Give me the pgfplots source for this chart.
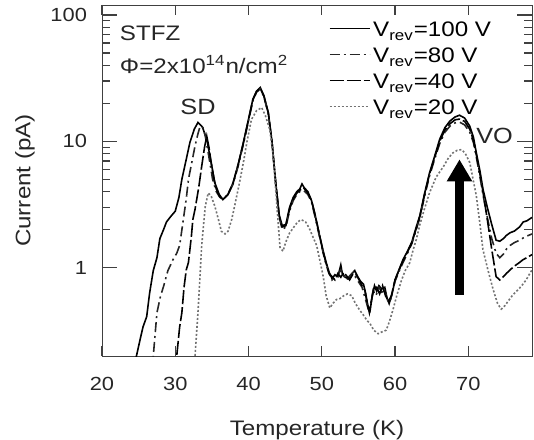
\documentclass[border=0pt]{standalone}
\usepackage{fontspec}
\setmainfont{Liberation Sans}[FakeStretch=1.15]
\usepackage{pgfplots}
\pgfplotsset{compat=1.18}
\usetikzlibrary{arrows.meta}

\begin{document}
\begin{tikzpicture}
\useasboundingbox (-51pt,-41.5pt) rectangle (216pt,178pt);
\begin{axis}[
  scale only axis,
  width=215pt, height=175.5pt,
  ymode=log,
  xmin=20, xmax=78.7,
  ymin=0.2, ymax=120,
  xtick={20,30,40,50,60,70},
  ytick={1,10,100},
  yticklabels={1,10,100},
  major tick length=5pt,
  minor tick length=4pt,
  ytick style={/pgfplots/major tick length=7.5pt},
  axis line style={black!75},
  every tick/.style={black!75, line width=0.6pt},
  /pgf/number format/assume math mode=true,
  tick label style={font=\fontsize{9.5}{11}\selectfont, text=black!85},
  xticklabel style={yshift=-7pt},
  yticklabel style={xshift=-4pt},
  xlabel={Temperature (K)},
  ylabel={Current (pA)},
  label style={font=\fontsize{10.5}{12}\selectfont, text=black!85},
  xlabel style={yshift=-8pt},
  ylabel style={yshift=1pt},
  legend style={draw=none, fill=none, inner sep=0pt,
    at={(rel axis cs:0.527,0.956)}, anchor=north west,
    font=\fontsize{10.5}{12}\selectfont, row sep=0pt,
    nodes={inner ysep=0pt, inner xsep=1.5pt, text height=8pt, text depth=5pt}},
  legend cell align=left,
  legend image code/.code={\draw[#1, line width=0.6pt] (0pt,2.6pt) -- (20pt,2.6pt);},
]
% V_rev = 100 V
\addplot[black, line width=0.8pt] coordinates {
(24.3,0.15)(24.7,0.2)(25.2,0.27)(25.6,0.34)(26.1,0.41)(26.5,0.63)(27.0,0.95)(27.5,1.2)
(27.9,1.7)(28.4,2.0)(28.8,2.3)(29.4,2.55)(30.0,2.8)(30.5,3.6)(30.9,5.0)(31.5,7.2)
(32.0,9.8)(32.6,12.5)(33.1,14.1)(33.7,13.0)(34.3,10.4)(34.9,6.8)(35.4,4.7)(36.0,3.8)
(36.5,3.46)(37.2,3.8)(37.9,4.7)(38.6,6.6)(39.3,9.8)(40.0,15)(40.6,21.6)(41.1,25)
(41.6,26.7)(42.1,23)(42.7,16.9)(43.2,10)(43.7,4.8)(44.2,2.6)(44.6,2.15)(45.1,2.2)
(45.6,3.0)(46.1,3.6)(46.6,4.0)(47.0,4.2)(47.3,4.6)(47.6,4.3)(48.1,4.0)(48.6,3.4)
(49.1,2.6)(49.7,1.8)(50.2,1.35)(50.6,1.1)(51.0,0.92)(51.4,0.82)(51.8,0.88)(52.2,0.85)
(52.6,1.05)(52.8,0.9)(53.2,0.84)(53.6,0.82)(54.0,0.88)(54.5,0.95)(54.9,0.85)(55.3,0.78)
(55.7,0.74)(56.0,0.62)(56.3,0.5)(56.6,0.46)(56.9,0.6)(57.2,0.72)(57.5,0.65)(57.8,0.72)
(58.2,0.68)(58.6,0.7)(58.9,0.58)(59.2,0.52)(59.6,0.62)(60.0,0.8)(60.5,0.95)(61.1,1.16)
(61.7,1.35)(62.3,1.6)(62.9,2.1)(63.4,2.6)(64.0,3.8)(64.7,5.6)(65.4,7.6)(66.1,10.4)
(66.8,12.8)(67.5,14.5)(68.2,15.6)(68.8,16.1)(69.5,15.3)(70.2,13.2)(70.7,10.8)(71.1,8.1)
(71.6,5.8)(72.0,4.2)(72.6,3.0)(73.2,2.2)(73.8,1.65)(74.3,1.62)(74.8,1.7)(75.2,1.8)
(75.7,1.89)(76.3,1.95)(77.0,2.1)(77.5,2.3)(78.0,2.35)(78.7,2.5)
};
% V_rev = 80 V
\addplot[black!85, line width=0.8pt, dash pattern=on 5pt off 2pt on 1pt off 2pt] coordinates {
(26.7,0.15)(27.0,0.2)(27.5,0.44)(28.0,0.6)(28.4,0.71)(29.0,0.95)(29.7,1.16)(30.2,1.3)
(30.6,1.5)(31.1,2.4)(31.5,3.5)(31.8,5.0)(32.3,7.0)(32.7,9.2)(33.1,11.5)(33.4,13.2)
(33.8,12.8)(34.1,11)(34.6,7.5)(35.1,5.0)(35.6,4.0)(36.1,3.6)(36.5,3.5)(37.2,3.8)
(37.9,4.6)(38.6,6.4)(39.3,9.5)(40.0,14.5)(40.6,21)(41.1,24.5)(41.6,26)(42.1,22.5)
(42.7,16.5)(43.2,9.8)(43.7,4.6)(44.2,2.5)(44.6,2.0)(45.1,2.1)(45.6,2.8)(46.1,3.4)
(46.6,3.8)(47.0,4.0)(47.5,4.1)(48.1,3.8)(48.6,3.3)(49.1,2.5)(49.7,1.75)(50.2,1.3)
(50.6,1.05)(51.0,0.9)(51.4,0.8)(51.8,0.84)(52.2,0.88)(52.6,0.96)(53.0,0.86)(53.4,0.8)
(53.8,0.86)(54.3,0.92)(54.7,0.82)(55.1,0.76)(55.5,0.7)(55.9,0.58)(56.3,0.48)(56.7,0.52)
(57.0,0.66)(57.4,0.6)(57.8,0.7)(58.2,0.64)(58.6,0.66)(59.0,0.55)(59.4,0.56)(59.8,0.7)
(60.0,0.78)(60.5,0.92)(61.1,1.1)(61.7,1.3)(62.3,1.55)(62.9,2.0)(63.4,2.5)(64.0,3.6)
(64.7,5.3)(65.4,7.2)(66.1,9.6)(66.8,11.8)(67.5,13.2)(68.2,14.0)(68.8,14.2)(69.5,13.5)
(70.2,11.8)(70.7,9.8)(71.1,7.5)(71.6,5.2)(72.0,3.8)(72.6,2.5)(73.2,1.7)(73.8,1.3)
(74.3,1.2)(74.8,1.28)(75.2,1.4)(75.7,1.5)(76.3,1.58)(77.0,1.65)(77.5,1.72)(78.0,1.78)
(78.7,1.85)
};
% V_rev = 40 V
\addplot[black, line width=0.8pt, dash pattern=on 7pt off 1.5pt] coordinates {
(30.0,0.15)(30.2,0.2)(30.6,0.34)(30.9,0.44)(31.2,0.7)(31.5,0.96)(31.8,1.1)(32.2,1.77)
(32.4,2.4)(32.7,2.9)(33.2,4.3)(33.6,6.3)(34.0,9.0)(34.3,11.0)(34.6,9.0)(34.9,6.8)
(35.3,5.0)(35.6,4.2)(36.0,3.7)(36.5,3.46)(37.2,3.8)(37.9,4.7)(38.6,6.6)(39.3,9.7)
(40.0,14.8)(40.6,21.3)(41.1,24.8)(41.6,26.3)(42.1,22.8)(42.7,16.8)(43.2,10)(43.7,4.8)
(44.2,2.55)(44.6,2.1)(45.1,2.15)(45.6,2.9)(46.1,3.5)(46.6,3.9)(47.0,4.1)(47.5,4.3)
(48.1,3.9)(48.6,3.4)(49.1,2.6)(49.7,1.8)(50.2,1.32)(50.6,1.08)(51.0,0.9)(51.4,0.85)
(51.8,0.8)(52.2,0.9)(52.6,0.84)(53.0,0.92)(53.4,0.86)(53.8,0.8)(54.3,0.9)(54.7,0.88)
(55.1,0.8)(55.5,0.72)(55.9,0.66)(56.2,0.52)(56.5,0.44)(56.8,0.56)(57.1,0.68)(57.5,0.7)
(57.9,0.62)(58.3,0.72)(58.7,0.6)(59.1,0.54)(59.5,0.6)(60.0,0.8)(60.5,0.94)(61.1,1.14)
(61.7,1.33)(62.3,1.58)(62.9,2.05)(63.4,2.55)(64.0,3.7)(64.7,5.5)(65.4,7.4)(66.1,10)
(66.8,12.3)(67.5,13.8)(68.2,14.8)(68.8,15.0)(69.5,14.4)(70.2,12.5)(70.7,10.2)(71.1,7.8)
(71.6,5.5)(72.0,4.0)(72.6,2.4)(73.2,1.4)(73.8,0.85)(74.3,0.8)(74.8,0.85)(75.2,0.9)
(75.7,0.96)(76.3,1.03)(77.0,1.1)(77.5,1.16)(78.0,1.2)(78.7,1.27)
};
% V_rev = 20 V
\addplot[black!55, line width=0.8pt, dash pattern=on 1pt off 1pt] coordinates {
(32.5,0.15)(32.7,0.2)(33.1,0.44)(33.4,0.9)(33.6,1.48)(33.9,2.3)(34.1,3.07)(34.5,3.9)
(34.9,3.7)(35.4,3.07)(35.9,2.4)(36.3,1.94)(36.8,1.85)(37.2,1.94)(37.7,2.4)(38.1,3.07)
(38.7,4.5)(39.3,6.8)(39.8,10)(40.4,14.9)(41.1,17.5)(41.8,18.5)(42.3,16)(42.9,12.4)
(43.4,7.5)(43.8,3.5)(44.3,1.45)(44.7,1.35)(45.1,1.6)(45.6,1.88)(46.2,2.1)(46.7,2.3)
(47.2,2.4)(47.8,2.3)(48.3,2.05)(48.8,1.75)(49.3,1.5)(49.8,1.1)(50.2,0.85)(50.6,0.6)
(51.1,0.48)(51.5,0.52)(52.0,0.56)(52.5,0.57)(53.0,0.6)(53.5,0.62)(54.1,0.6)(54.6,0.52)
(55.2,0.46)(55.7,0.42)(56.2,0.38)(56.6,0.36)(57.1,0.32)(57.7,0.30)(58.2,0.31)(58.8,0.32)
(59.2,0.37)(59.7,0.46)(60.3,0.62)(60.9,0.8)(61.4,0.95)(62.0,1.09)(62.5,1.4)(62.9,1.67)
(63.4,2.2)(64.0,2.9)(64.7,3.9)(65.6,5.2)(66.6,6.3)(67.3,7.4)(67.9,8.1)(68.5,8.5)
(69.1,8.6)(69.6,8.0)(70.2,6.8)(70.6,5.2)(71.1,3.7)(71.6,2.2)(72.0,1.39)(72.7,0.95)
(73.4,0.67)(74.0,0.52)(74.5,0.47)(75.0,0.5)(75.5,0.55)(76.1,0.61)(76.7,0.66)(77.3,0.72)
(77.9,0.8)(78.4,0.9)(78.7,0.96)
};
\legend{V\textsubscript{rev}=100 V, V\textsubscript{rev}=80 V, V\textsubscript{rev}=40 V, V\textsubscript{rev}=20 V}
\node[anchor=west, inner sep=0pt, font=\fontsize{10.5}{12}\selectfont, text=black!85] at (axis cs:22.4,72) {STFZ};
\node[anchor=west, inner sep=0pt, font=\fontsize{10.5}{12}\selectfont, text=black!85] at (axis cs:22.4,40.8) {Φ=2x10\textsuperscript{14}n/cm\textsuperscript{2}};
\node[inner sep=0pt, font=\fontsize{11}{12}\selectfont, text=black!85] at (axis cs:33.1,18.6) {SD};
\node[inner sep=0pt, font=\fontsize{11}{12}\selectfont, text=black!85] at (axis cs:73.6,11.0) {VO};
\draw[line width=4.5pt, -{Triangle[width=12pt,length=11pt]}] (axis cs:68.8,0.61) -- (axis cs:68.8,7.2);
\end{axis}
\end{tikzpicture}
\end{document}
